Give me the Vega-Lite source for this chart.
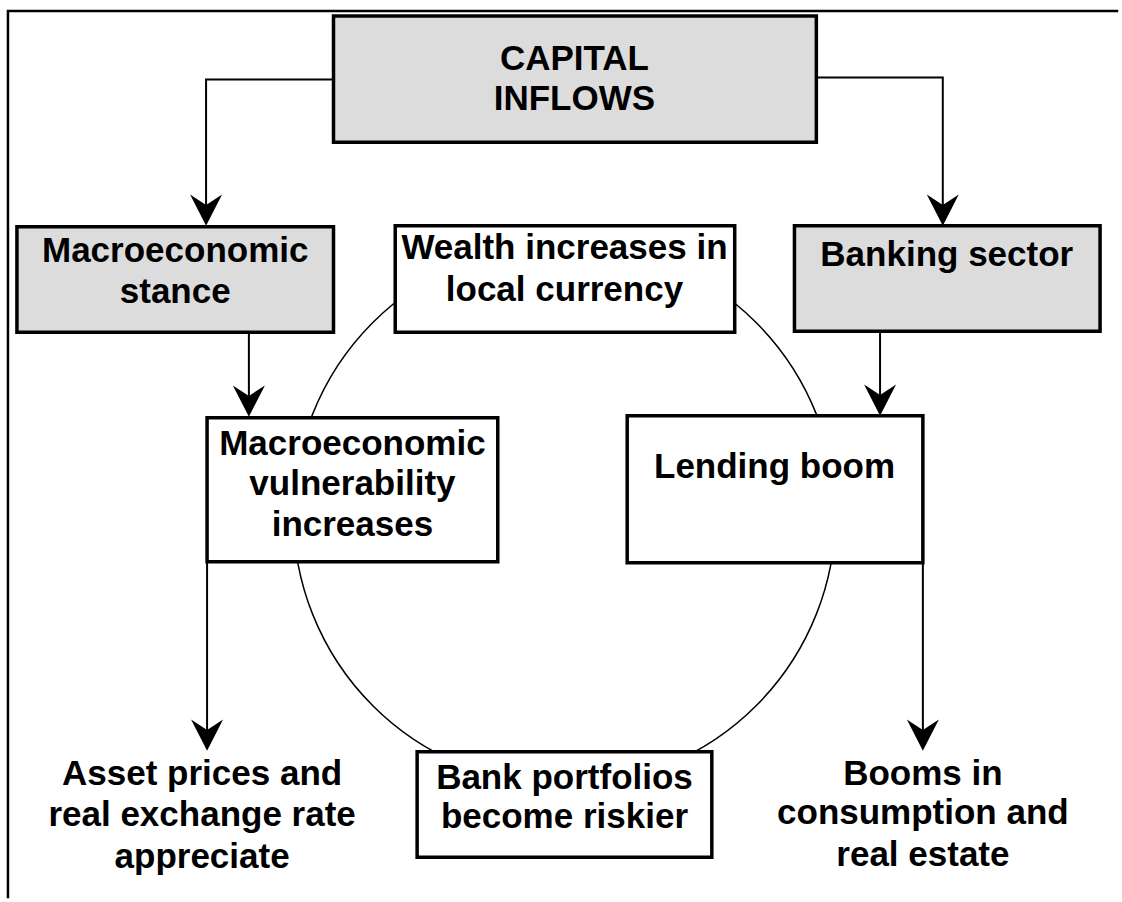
{
  "$schema": "https://vega.github.io/schema/vega-lite/v6.json",
  "width": 1122,
  "height": 902,
  "autosize": {"type": "fit", "contains": "padding"},
  "padding": 0,
  "background": "white",
  "config": {"view": {"stroke": null}},
  "datasets": {
    "frame": [
      {"seq": 1, "x": 8, "y": 902},
      {"seq": 2, "x": 8, "y": 11},
      {"seq": 3, "x": 1122, "y": 11}
    ],
    "cycle": [{"x": 567, "y": 517}],
    "boxes": [
      {"name": "CAPITAL INFLOWS", "x": 335, "x2": 820, "y": 16, "y2": 143, "tier": "driver"},
      {"name": "Macroeconomic stance", "x": 17, "x2": 335, "y": 228, "y2": 334, "tier": "driver"},
      {"name": "Wealth increases in local currency", "x": 397, "x2": 738, "y": 227, "y2": 334, "tier": "effect"},
      {"name": "Banking sector", "x": 798, "x2": 1105, "y": 227, "y2": 333, "tier": "driver"},
      {"name": "Macroeconomic vulnerability increases", "x": 208, "x2": 500, "y": 420, "y2": 565, "tier": "effect"},
      {"name": "Lending boom", "x": 630, "x2": 927, "y": 418, "y2": 566, "tier": "effect"},
      {"name": "Bank portfolios become riskier", "x": 419, "x2": 715, "y": 756, "y2": 862, "tier": "effect"}
    ],
    "links": [
      {"id": "a", "seq": 1, "x": 335, "y": 80},
      {"id": "a", "seq": 2, "x": 207, "y": 80},
      {"id": "a", "seq": 3, "x": 207, "y": 210},
      {"id": "b", "seq": 1, "x": 820, "y": 78},
      {"id": "b", "seq": 2, "x": 947, "y": 78},
      {"id": "b", "seq": 3, "x": 947, "y": 210},
      {"id": "c", "seq": 1, "x": 250, "y": 334},
      {"id": "c", "seq": 2, "x": 250, "y": 402},
      {"id": "d", "seq": 1, "x": 884, "y": 333},
      {"id": "d", "seq": 2, "x": 884, "y": 402},
      {"id": "e", "seq": 1, "x": 208, "y": 565},
      {"id": "e", "seq": 2, "x": 208, "y": 738},
      {"id": "f", "seq": 1, "x": 927, "y": 566},
      {"id": "f", "seq": 2, "x": 927, "y": 738}
    ],
    "heads": [
      {"x": 207, "y": 227},
      {"x": 947, "y": 227},
      {"x": 250, "y": 419},
      {"x": 884, "y": 418},
      {"x": 208, "y": 755},
      {"x": 927, "y": 755}
    ],
    "labels": [
      {"t": "CAPITAL", "x": 577, "y": 70},
      {"t": "INFLOWS", "x": 577, "y": 111},
      {"t": "Macroeconomic", "x": 176, "y": 263},
      {"t": "stance", "x": 176, "y": 305},
      {"t": "Wealth increases in", "x": 567, "y": 260},
      {"t": "local currency", "x": 567, "y": 303},
      {"t": "Banking sector", "x": 951, "y": 267},
      {"t": "Macroeconomic", "x": 354, "y": 458},
      {"t": "vulnerability", "x": 354, "y": 498},
      {"t": "increases", "x": 354, "y": 539},
      {"t": "Lending boom", "x": 778, "y": 481},
      {"t": "Asset prices and", "x": 203, "y": 789},
      {"t": "real exchange rate", "x": 203, "y": 831},
      {"t": "appreciate", "x": 203, "y": 873},
      {"t": "Bank portfolios", "x": 567, "y": 793},
      {"t": "become riskier", "x": 567, "y": 833},
      {"t": "Booms in", "x": 927, "y": 789},
      {"t": "consumption and", "x": 927, "y": 829},
      {"t": "real estate", "x": 927, "y": 871}
    ]
  },
  "layer": [
    {
      "data": {"name": "frame"},
      "mark": {"type": "line", "color": "black", "strokeWidth": 2.5, "strokeCap": "square"},
      "encoding": {
        "x": {"field": "x", "type": "quantitative", "scale": {"domain": [0, 1122], "nice": false, "zero": false}, "axis": null},
        "y": {"field": "y", "type": "quantitative", "scale": {"domain": [0, 902], "nice": false, "zero": false, "reverse": true}, "axis": null},
        "order": {"field": "seq"}
      }
    },
    {
      "data": {"name": "cycle"},
      "mark": {"type": "point", "shape": "circle", "size": 293764, "filled": false, "color": "black", "strokeWidth": 1.5, "opacity": 1},
      "encoding": {
        "x": {"field": "x", "type": "quantitative"},
        "y": {"field": "y", "type": "quantitative"}
      }
    },
    {
      "data": {"name": "boxes"},
      "mark": {"type": "rect", "stroke": "black", "strokeWidth": 3.5},
      "encoding": {
        "x": {"field": "x", "type": "quantitative"},
        "x2": {"field": "x2"},
        "y": {"field": "y", "type": "quantitative"},
        "y2": {"field": "y2"},
        "fill": {"field": "tier", "type": "nominal", "scale": {"domain": ["driver", "effect"], "range": ["#dcdcdc", "#ffffff"]}, "legend": null}
      }
    },
    {
      "data": {"name": "links"},
      "mark": {"type": "line", "color": "black", "strokeWidth": 2},
      "encoding": {
        "x": {"field": "x", "type": "quantitative"},
        "y": {"field": "y", "type": "quantitative"},
        "detail": {"field": "id", "type": "nominal"},
        "order": {"field": "seq"}
      }
    },
    {
      "data": {"name": "heads"},
      "mark": {"type": "point", "shape": "M0,0L-1,-1.95L0,-1.3L1,-1.95Z", "size": 1024, "filled": true, "color": "black", "opacity": 1, "strokeWidth": 0},
      "encoding": {
        "x": {"field": "x", "type": "quantitative"},
        "y": {"field": "y", "type": "quantitative"}
      }
    },
    {
      "data": {"name": "labels"},
      "mark": {"type": "text", "font": "Liberation Sans", "fontWeight": "bold", "fontSize": 35, "baseline": "alphabetic", "align": "center", "color": "black"},
      "encoding": {
        "x": {"field": "x", "type": "quantitative"},
        "y": {"field": "y", "type": "quantitative"},
        "text": {"field": "t", "type": "nominal"}
      }
    }
  ]
}
